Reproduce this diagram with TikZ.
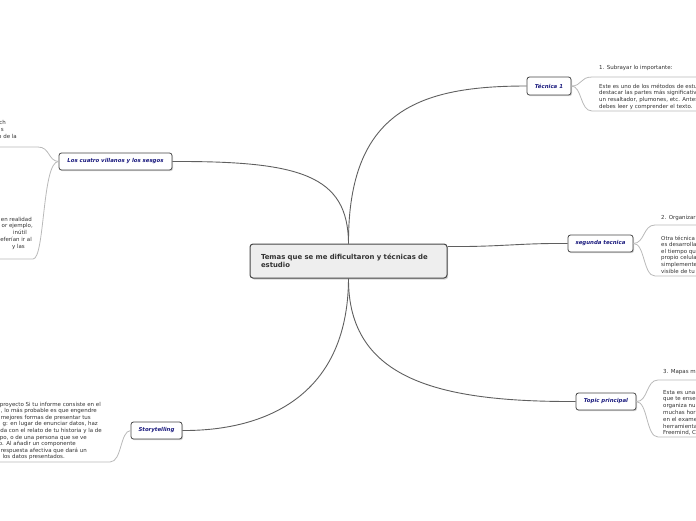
\documentclass[tikz,border=0pt]{standalone}
\usepackage{fontspec}
\setmainfont{DejaVu Sans}
\usetikzlibrary{shadows}
\definecolor{navy}{RGB}{25,25,125}
\definecolor{txt}{RGB}{50,50,50}
\definecolor{mainline}{RGB}{95,95,95}
\definecolor{subline}{RGB}{185,185,185}
\definecolor{boxline}{RGB}{70,70,70}
\definecolor{centfill}{RGB}{238,238,238}
\begin{document}
\begin{tikzpicture}[x=1pt,y=-1pt,
  topic/.style={draw=boxline, line width=0.8pt, fill=white, rounded corners=2.5pt,
    minimum height=17pt, inner sep=0pt,
    font=\fontsize{5.4}{6}\selectfont\bfseries\itshape, text=navy,
    drop shadow={shadow xshift=1pt, shadow yshift=-1.2pt, opacity=0.35}},
  central/.style={draw=boxline, line width=1pt, fill=centfill, rounded corners=3pt,
    minimum width=197pt, minimum height=34pt, text width=175pt, align=left,
    inner xsep=11pt, inner ysep=0pt,
    font=\fontsize{6.9}{8.2}\selectfont\bfseries, text=txt,
    drop shadow={shadow xshift=1.2pt, shadow yshift=-1.5pt, opacity=0.35}},
  conn/.style={draw=mainline, line width=0.9pt},
  sub/.style={draw=subline, line width=0.8pt},
  note/.style={inner sep=0pt, font=\fontsize{5.5}{6.8}\selectfont, text=txt, anchor=base west},
  frag/.style={inner sep=0pt, font=\fontsize{5.5}{6.8}\selectfont, text=txt, anchor=base east},
]
\useasboundingbox (0,0) rectangle (696,520);
\clip (0,0) rectangle (696,520);

% main nodes
\node[central] (c) at (348.5,261) {Temas que se me dificultaron y técnicas de\\estudio};
\node[topic, minimum width=44pt, minimum height=18pt] (t1) at (549,86) {Técnica 1};
\node[topic, minimum width=65pt] (s2) at (600.5,243.5) {segunda tecnica};
\node[topic, minimum width=60pt] (tp) at (606,401.5) {Topic principal};
\node[topic, minimum width=51pt] (st) at (156.5,430.5) {Storytelling};
\node[topic, minimum width=113pt] (v) at (115.5,161.5) {Los cuatro villanos y los sesgos};

% main connectors
\draw[conn] (c.north) .. controls (348,110) and (420,86) .. (t1.west);
\draw[conn] (c.north) .. controls (348,175) and (300,161) .. (v.east);
\draw[conn] ([yshift=-3pt]c.north east) .. controls (500,247) and (520,243) .. (s2.west);
\draw[conn] (c.south) .. controls (348,380) and (440,402) .. (tp.west);
\draw[conn] (c.south) .. controls (348,400) and (260,431) .. (st.east);

% sub connectors
\draw[sub] (t1.east) .. controls (582,86) and (580,77) .. (592,77) -- (696,77);
\draw[sub] (t1.east) .. controls (582,86) and (580,111) .. (592,111) -- (696,111);
\draw[sub] (s2.east) .. controls (645,243) and (643,225) .. (655,225) -- (696,225);
\draw[sub] (s2.east) .. controls (645,243) and (643,276) .. (655,276) -- (696,276);
\draw[sub] (tp.east) .. controls (648,402) and (646,380) .. (658,380) -- (696,380);
\draw[sub] (tp.east) .. controls (648,402) and (646,437) .. (658,437) -- (696,437);
\draw[sub] (v.west) .. controls (48,161) and (50,147) .. (38,147) -- (0,147);
\draw[sub] (v.west) .. controls (42,161) and (45,259) .. (33,259) -- (0,259);
\draw[sub] (st.west) .. controls (120,431) and (122,462) .. (110,462) -- (0,462);

% right texts
\node[note] (t1a) at (599,69) {1. Subrayar lo importante:};
\foreach \s [count=\i] in {Este es uno de los métodos de estu, destacar las partes más significativ, {un resaltador, plumones, etc. Antes}, debes leer y comprender el texto.}
  \node[note] (t1b\i) at (599,{88+(\i-1)*6.8}) {\s};
\node[note] (s2a) at (661,219) {2. Organizar};
\foreach \s [count=\i] in {Otra técnica, es desarrolla, el tiempo qu, propio celula, simplemente, visible de tu}
  \node[note] (s2b\i) at (661,{240+(\i-1)*6.6}) {\s};
\node[note] (tpa) at (663,373) {3. Mapas m};
\foreach \s [count=\i] in {Esta es una, que te ense, organiza nu, muchas hor, en el exame, herramienta, {Freemind, C}}
  \node[note] (tpb\i) at (663,{394+(\i-1)*6.8}) {\s};

% left texts
\foreach \s/\e/\b [count=\i] in {ch/6/124, s/4/131, o de la/17/138}
  \node[frag] (va\i) at (\e,\b) {\s};
\foreach \s/\e [count=\i] in {en realidad/32, {or ejemplo,}/33, inútil/27, eferían ir al/32, y las/25}
  \node[frag] (vb\i) at (\e,{221+(\i-1)*6.8}) {\s};
\foreach \s/\e [count=\i] in {proyecto Si tu informe consiste en el/101, {, lo más probable es que engendre}/97, mejores formas de presentar tus/91, {g: en lugar de enunciar datos, haz}/98, da con el relato de tu historia y la de/102, {po, o de una persona que se ve}/87, o. Al añadir un componente/76, respuesta afectiva que dará un/87, los datos presentados./65}
  \node[frag] (stb\i) at (\e,{406+(\i-1)*6.6}) {\s};
\end{tikzpicture}
\end{document}
